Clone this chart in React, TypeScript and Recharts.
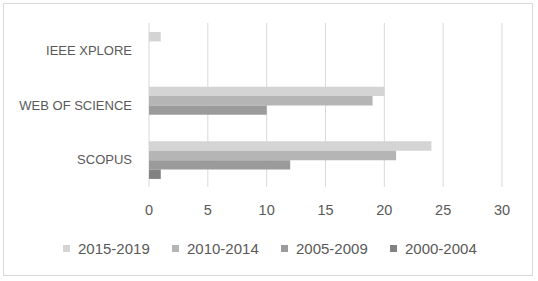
import { BarChart, Bar, XAxis, YAxis, CartesianGrid } from 'recharts';

const SOURCES = ['IEEE XPLORE', 'WEB OF SCIENCE', 'SCOPUS'];
const PERIODS = ['2015-2019', '2010-2014', '2005-2009', '2000-2004'];
const P2015 = [1, 20, 24];
const P2010 = [0, 19, 21];
const P2005 = [0, 10, 12];
const P2000 = [0, 0, 1];
const X_TICKS = [0, 5, 10, 15, 20, 25, 30];

const COLORS = ['#d4d4d4', '#b5b5b5', '#9b9b9b', '#828282'];
const FONT = '"Liberation Sans", Arial, sans-serif';
const TEXT = '#595959';

const series = [P2015, P2010, P2005, P2000];
const data = SOURCES.map((name, i) => {
  const row: Record<string, string | number> = { name };
  PERIODS.forEach((p, j) => {
    row[p] = series[j][i];
  });
  return row;
});

// legend sits under the axis, drawn as plain html
function LegendRow() {
  return (
    <div style={{
      position: 'absolute', left: 63, top: 238, height: 20,
      display: 'flex', fontFamily: FONT, fontSize: 15, color: TEXT,
    }}>
      {PERIODS.map((p, i) => (
        <div key={p} style={{ display: 'flex', alignItems: 'center', width: 109 }}>
          <span style={{ width: 7, height: 7, background: COLORS[i], marginRight: 8, display: 'inline-block' }} />
          <span>{p}</span>
        </div>
      ))}
    </div>
  );
}

export default function App() {
  return (
    <div style={{ position: 'absolute', left: 0, top: 0, width: 538, height: 281, background: '#fff' }}>
      <div style={{
        position: 'absolute', left: 3, top: 3, width: 528, height: 271,
        border: '1px solid #d9d9d9',
      }} />
      <div style={{ position: 'absolute', left: 0, top: 0 }}>
        <BarChart
          width={538}
          height={281}
          data={data}
          layout="vertical"
          margin={{ top: 23, right: 36, left: 0, bottom: 64 }}
          barGap={0}
        >
          <CartesianGrid horizontal={false} stroke="#d9d9d9" />
          <XAxis
            type="number"
            domain={[0, 30]}
            ticks={X_TICKS}
            axisLine={false}
            tickLine={false}
            tickMargin={12}
            height={30}
            tick={{ fill: TEXT, fontSize: 14.5, fontFamily: FONT }}
          />
          <YAxis
            type="category"
            dataKey="name"
            width={149}
            axisLine={false}
            tickLine={false}
            tickMargin={11}
            tick={{ fill: TEXT, fontSize: 13, fontFamily: FONT }}
          />
          {PERIODS.map((p, i) => (
            <Bar key={p} dataKey={p} fill={COLORS[i]} barSize={9.4} isAnimationActive={false} />
          ))}
        </BarChart>
      </div>
      <LegendRow />
    </div>
  );
}
